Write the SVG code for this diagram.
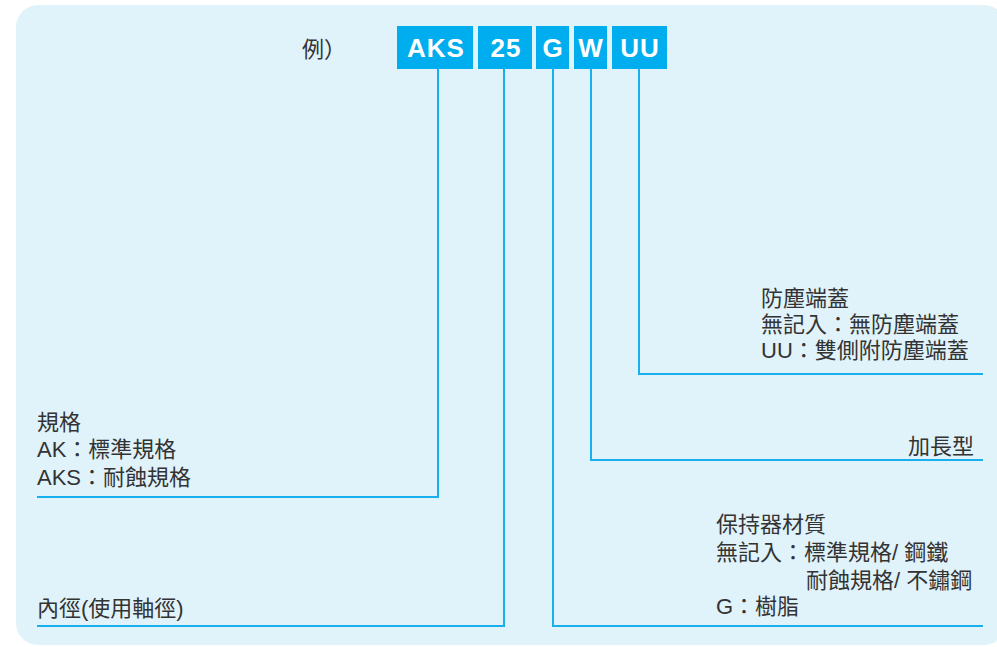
<svg xmlns="http://www.w3.org/2000/svg" width="997" height="647" viewBox="0 0 997 647">
<style>
.t{font-family:"Liberation Sans","Noto Sans CJK TC","Noto Sans CJK SC",sans-serif;font-size:22px;fill:#333;}
.b{font-family:"Liberation Sans",Arial,sans-serif;font-weight:bold;font-size:26px;letter-spacing:1px;fill:#fff;text-anchor:middle;}
.box{fill:#00AEEF;}
.ln{fill:none;stroke:#18B0EC;stroke-width:2;}
</style>
<rect x="16" y="5" width="990" height="640" rx="22" fill="#E0F2FA"/>
<g id="title"><text class="t" x="302" y="57">例）</text></g>
<g id="code">
<g id="box-aks"><rect class="box" x="397" y="26" width="76" height="43"/><text class="b" x="436" y="57">AKS</text></g>
<g id="box-25"><rect class="box" x="478" y="26" width="54" height="43"/><text class="b" x="506" y="57">25</text></g>
<g id="box-g"><rect class="box" x="536" y="26" width="33" height="43"/><text class="b" x="553" y="57">G</text></g>
<g id="box-w"><rect class="box" x="574" y="26" width="33" height="43"/><text class="b" x="591" y="57">W</text></g>
<g id="box-uu"><rect class="box" x="612" y="26" width="55" height="43"/><text class="b" x="640" y="57">UU</text></g>
</g>
<g id="connectors">
<polyline class="ln" points="438,69 438,497 37,497"/>
<polyline class="ln" points="504,69 504,626 37,626"/>
<polyline class="ln" points="553,69 553,626 983,626"/>
<polyline class="ln" points="591,69 591,460 983,460"/>
<polyline class="ln" points="639,69 639,374 983,374"/>
</g>
<g id="spec">
<text class="t" x="37" y="430">規格</text>
<text class="t" x="37" y="457">AK：標準規格</text>
<text class="t" x="37" y="485">AKS：耐蝕規格</text>
</g>
<g id="bore"><text class="t" x="37" y="616">內徑(使用軸徑)</text></g>
<g id="seal">
<text class="t" x="761" y="306">防塵端蓋</text>
<text class="t" x="761" y="332">無記入：無防塵端蓋</text>
<text class="t" x="761" y="358">UU：雙側附防塵端蓋</text>
</g>
<g id="long"><text class="t" x="974" y="454" text-anchor="end">加長型</text></g>
<g id="retainer">
<text class="t" x="716" y="532">保持器材質</text>
<text class="t" x="716" y="560">無記入：標準規格/ 鋼鐵</text>
<text class="t" x="806" y="588">耐蝕規格/ 不鏽鋼</text>
<text class="t" x="716" y="614">G：樹脂</text>
</g>
</svg>
